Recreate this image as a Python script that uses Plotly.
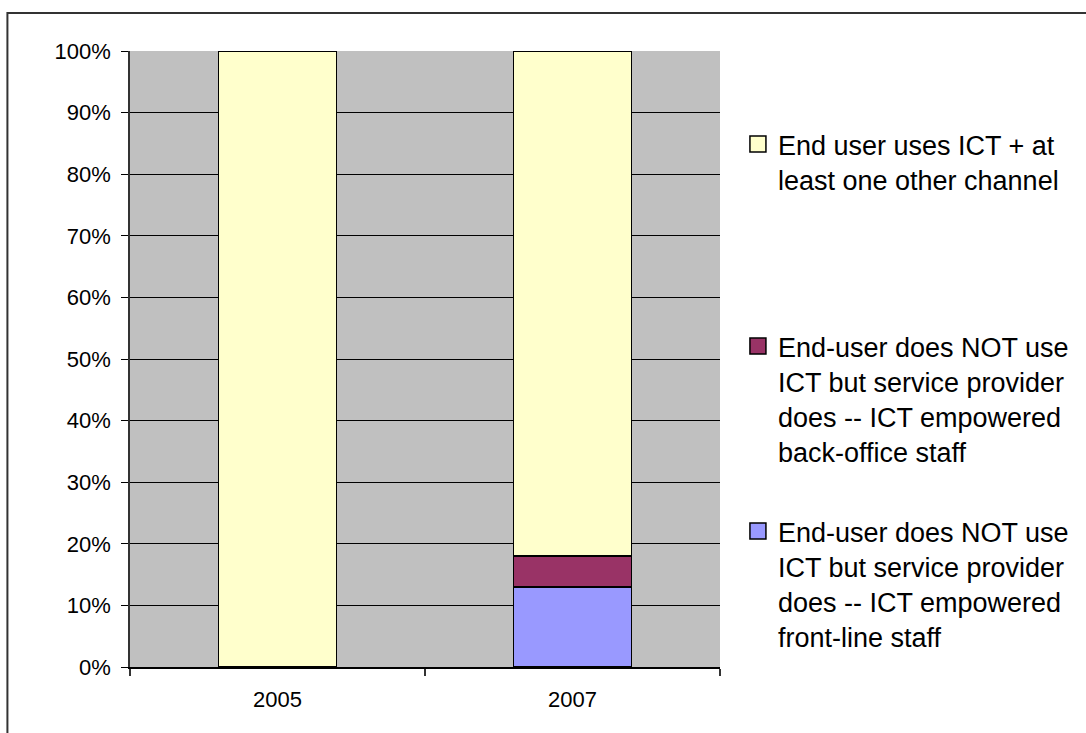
import plotly.graph_objects as go

# Survey years on the category axis
years = ["2005", "2007"]

# Share of cases by channel type (fractions of 1)
front_line = [0.0, 0.13]
back_office = [0.0, 0.05]
ict_plus_other = [1.0, 0.82]

names = [
    "End-user does NOT use<br>ICT but service provider<br>does -- ICT empowered<br>front-line staff",
    "End-user does NOT use<br>ICT but service provider<br>does -- ICT empowered<br>back-office staff",
    "End user uses ICT + at<br>least one other channel",
]
colors = ["#9999FF", "#993366", "#FFFFCC"]
series = [front_line, back_office, ict_plus_other]

W, H = 1086, 733
L, R, T, B = 130, 722, 51, 667   # plot area in pixels


def px_x(p):
    return (p - L) / (R - L)


def px_y(p):
    return (B - p) / (B - T)


fig = go.Figure()

for vals, col, name in zip(series, colors, names):
    fig.add_trace(go.Bar(
        x=years, y=vals, name=name, showlegend=False,
        marker=dict(color=col, line=dict(color="black", width=1.5)),
    ))

# Legend entries, one legend box per series so each can be placed on its own
legend_keys = ["legend3", "legend2", "legend"]
for col, name, key in zip(colors, names, legend_keys):
    fig.add_trace(go.Scatter(
        x=[None], y=[None], mode="markers", name=name, legend=key,
        marker=dict(symbol="square", size=16, color=col,
                    line=dict(color="black", width=1.5)),
    ))

font_leg = dict(family="Liberation Sans, Arial, sans-serif", size=27, color="black")
leg_common = dict(x=px_x(740), xanchor="left", yanchor="top", valign="top",
                  font=font_leg, bgcolor="rgba(0,0,0,0)", borderwidth=0)

fig.update_layout(
    width=W, height=H,
    margin=dict(l=L, r=W - R, t=T, b=H - B),
    paper_bgcolor="white",
    plot_bgcolor="#C0C0C0",
    barmode="stack",
    bargap=0.6,
    legend=dict(y=px_y(120), **leg_common),
    legend2=dict(y=px_y(322), **leg_common),
    legend3=dict(y=px_y(507), **leg_common),
    font=dict(family="Liberation Sans, Arial, sans-serif", size=22, color="black"),
    xaxis=dict(
        type="category", range=[-0.5, 1.5],
        showgrid=False, zeroline=False,
        showline=True, linecolor="black", linewidth=1.5,
        ticks="outside", tickson="boundaries", ticklen=7, tickcolor="#333333",
        tickwidth=1.5, ticklabelstandoff=12,
    ),
    yaxis=dict(
        range=[0, 1], dtick=0.1, tickformat=".0%",
        showgrid=True, gridcolor="black", gridwidth=1,
        zeroline=False,
        showline=True, linecolor="#333333", linewidth=1.5,
        ticks="outside", ticklen=7, tickcolor="black", tickwidth=1,
        ticklabelstandoff=6,
    ),
    shapes=[dict(
        type="rect", xref="paper", yref="paper",
        x0=px_x(7), x1=px_x(1095), y0=px_y(745), y1=px_y(13),
        line=dict(color="#333333", width=2), fillcolor="rgba(0,0,0,0)",
        layer="below",
    )],
)

fig.write_html("out.html")
